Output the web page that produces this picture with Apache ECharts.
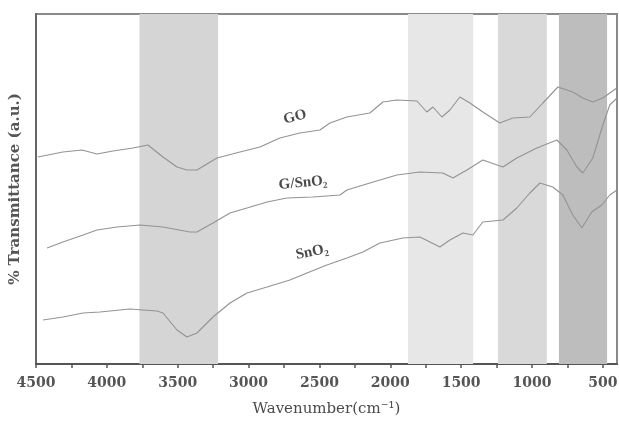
<!DOCTYPE html>
<html>
<head>
<meta charset="utf-8">
<style>
  html, body { margin: 0; padding: 0; background: #fff; }
  #chart { width: 619px; height: 421px; }
</style>
<script src="https://cdn.jsdelivr.net/npm/echarts@6/dist/echarts.min.js"></script>
</head>
<body>
<div id="chart"></div>
<script>
// FTIR spectra, transmittance in arbitrary units (offset per curve)
const goWave = [4486, 4310, 4175, 4070, 3957, 3816, 3710, 3604, 3505, 3435, 3364, 3223, 3061, 2920, 2779, 2638, 2496, 2426, 2306, 2144, 2052, 1953, 1812, 1742, 1699, 1636, 1579, 1509, 1438, 1347, 1227, 1135, 1015, 923, 817, 712, 641, 571, 500, 451, 400];
const goT = [207, 212, 214, 210, 213, 216, 219, 207, 197, 194, 194, 206, 212, 217, 226, 231, 234, 241, 247, 251, 262, 264, 263, 252, 257, 247, 254, 267, 261, 252, 241, 246, 247, 261, 277, 272, 266, 262, 266, 271, 276];

const gsWave = [4422, 4310, 4168, 4070, 3929, 3766, 3604, 3414, 3364, 3251, 3131, 3011, 2870, 2729, 2546, 2355, 2306, 2144, 1953, 1791, 1629, 1558, 1459, 1347, 1205, 1107, 966, 824, 754, 683, 641, 571, 500, 451, 400];
const gsT = [116, 122, 129, 134, 137, 139, 137, 132, 132, 141, 151, 156, 162, 166, 167, 169, 174, 181, 189, 192, 191, 186, 194, 204, 197, 206, 216, 224, 214, 197, 191, 206, 239, 259, 266];

const snWave = [4451, 4310, 4168, 4049, 3837, 3646, 3604, 3505, 3435, 3364, 3251, 3131, 3011, 2870, 2708, 2588, 2447, 2306, 2193, 2073, 1911, 1791, 1720, 1650, 1579, 1488, 1417, 1347, 1205, 1107, 1015, 944, 853, 782, 712, 648, 578, 507, 451, 400];
const snT = [44, 47, 51, 52, 55, 53, 51, 34, 27, 31, 47, 61, 71, 77, 84, 91, 99, 106, 112, 121, 126, 127, 122, 117, 124, 131, 129, 142, 144, 156, 171, 181, 177, 169, 149, 136, 152, 159, 169, 174];

// shaded absorption regions [from, to, colour]
const bands = [
  [3770, 3215, '#d5d5d5'],
  [1875, 1415, '#e7e7e7'],
  [1240, 895, '#d9d9d9'],
  [810, 470, '#bdbdbd']
];

const tickValues = [500, 750, 1000, 1250, 1500, 1750, 2000, 2250, 2500, 2750, 3000, 3250, 3500, 3750, 4000, 4250, 4500];
const labelValues = [500, 1000, 1500, 2000, 2500, 3000, 3500, 4000, 4500];

const zip = (xs, ys) => xs.map((x, i) => [x, ys[i]]);

const lineStyle = { color: '#939393', width: 1.1 };
const serif = 'DejaVu Serif';
const labelFont = 'bold 15px "Liberation Serif"';

const chart = echarts.init(document.getElementById('chart'));
chart.setOption({
  animation: false,
  grid: {
    left: 36, right: 2, top: 14, bottom: 57,
    outerBoundsMode: 'none',
    containLabel: false,
    show: true, borderColor: '#8a8a8a', borderWidth: 2
  },
  xAxis: {
    type: 'value',
    inverse: true,
    min: 400,
    max: 4500,
    splitLine: { show: false },
    axisLine: { lineStyle: { color: '#555', width: 2 } },
    axisTick: { customValues: tickValues, length: 4, lineStyle: { color: '#555', width: 1.5 } },
    axisLabel: {
      customValues: labelValues,
      formatter: v => String(v),
      margin: 12,
      color: '#555',
      fontFamily: serif,
      fontWeight: 'bold',
      fontSize: 14
    },
    name: 'Wavenumber(cm⁻¹)',
    nameLocation: 'middle',
    nameGap: 38,
    nameTextStyle: { color: '#4a4a4a', fontFamily: serif, fontSize: 15 }
  },
  yAxis: {
    type: 'value',
    min: 0,
    max: 350,
    splitLine: { show: false },
    axisTick: { show: false },
    axisLabel: { show: false },
    axisLine: { show: true, lineStyle: { color: '#666', width: 2 } },
    name: '% Transmittance (a.u.)',
    nameLocation: 'middle',
    nameGap: 13,
    nameTextStyle: { color: '#555', fontFamily: serif, fontWeight: 'bold', fontSize: 15 }
  },
  series: [
    {
      name: 'GO',
      type: 'line',
      showSymbol: false,
      lineStyle,
      data: zip(goWave, goT),
      z: 3,
      markArea: {
        silent: true,
        data: bands.map(b => [
          { xAxis: b[0], itemStyle: { color: b[2] } },
          { xAxis: b[1] }
        ])
      }
    },
    { name: 'G/SnO₂', type: 'line', showSymbol: false, lineStyle, data: zip(gsWave, gsT), z: 3 },
    { name: 'SnO₂', type: 'line', showSymbol: false, lineStyle, data: zip(snWave, snT), z: 3 }
  ],
  graphic: [
    { type: 'text', x: 295, y: 117, rotation: 0.26,
      style: { text: 'GO', fill: '#4a4a4a', font: labelFont, align: 'center', verticalAlign: 'middle' } },
    { type: 'text', x: 303, y: 183, rotation: 0.09,
      style: { text: 'G/SnO₂', fill: '#4a4a4a', font: labelFont, align: 'center', verticalAlign: 'middle' } },
    { type: 'text', x: 312, y: 252, rotation: 0.2,
      style: { text: 'SnO₂', fill: '#4a4a4a', font: labelFont, align: 'center', verticalAlign: 'middle' } }
  ]
});
</script>
</body>
</html>
